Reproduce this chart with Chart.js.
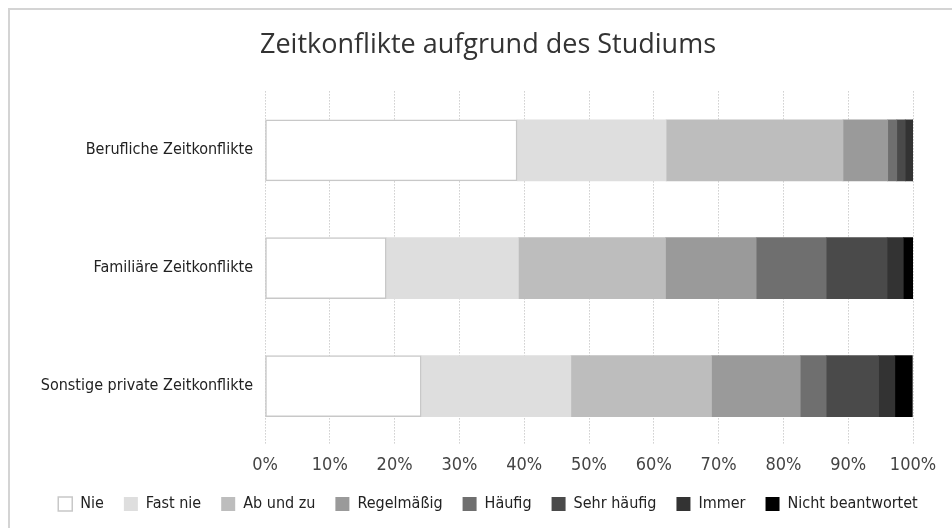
<!DOCTYPE html>
<html>
<head>
<meta charset="utf-8">
<script src="https://cdn.jsdelivr.net/npm/chart.js@4"></script>
<style>
  html, body { margin: 0; padding: 0; background: #fff; }
  #wrap { position: relative; width: 952px; height: 528px; overflow: hidden; }
  #frame { position: absolute; left: 8px; top: 8px; width: 980px; height: 560px;
           border-left: 2px solid #d4d4d4; border-top: 2px solid #d4d4d4; }
  canvas { position: absolute; left: 0; top: 0; }
</style>
</head>
<body>
<div id="wrap">
  <div id="frame"></div>
  <canvas id="chart" width="952" height="528"></canvas>
</div>
<script>
const categories = ["Berufliche Zeitkonflikte", "Familiäre Zeitkonflikte", "Sonstige private Zeitkonflikte"];
const seriesNames = ["Nie", "Fast nie", "Ab und zu", "Regelmäßig", "Häufig", "Sehr häufig", "Immer", "Nicht beantwortet"];
const nie = [38.9, 18.7, 24.1];
const fastNie = [23.0, 20.4, 23.1];
const abUndZu = [27.3, 22.7, 21.7];
const regelmaessig = [6.9, 14.0, 13.7];
const haeufig = [1.4, 10.8, 4.0];
const sehrHaeufig = [1.3, 9.4, 8.1];
const immer = [1.2, 2.5, 2.5];
const nichtBeantwortet = [0.0, 1.5, 2.7];
const xTicks = [0, 10, 20, 30, 40, 50, 60, 70, 80, 90, 100];

const seriesValues = [nie, fastNie, abUndZu, regelmaessig, haeufig, sehrHaeufig, immer, nichtBeantwortet];
const colors = ["#ffffff", "#dedede", "#bdbdbd", "#9a9a9a", "#6f6f6f", "#4a4a4a", "#333333", "#000000"];

const condensed = '"Liberation Sans Narrow", "DejaVu Sans Condensed", "Roboto", sans-serif';

const datasets = seriesNames.map((name, i) => ({
  label: name,
  data: seriesValues[i],
  backgroundColor: colors[i],
  borderColor: i === 0 ? "#c8c8c8" : colors[i],
  borderWidth: i === 0 ? 1.5 : 0,
  borderSkipped: false,
  barThickness: 61,
}));

const ctx = document.getElementById("chart").getContext("2d");

new Chart(ctx, {
  type: "bar",
  data: { labels: categories, datasets: datasets },
  options: {
    indexAxis: "y",
    responsive: false,
    animation: false,
    // left/right padding kept uneven so the title and legend sit a bit right of centre
    layout: { padding: { left: 30, right: 6, top: 12, bottom: 6 } },
    scales: {
      x: {
        stacked: true,
        min: 0,
        max: 100,
        afterBuildTicks: (axis) => { axis.ticks = xTicks.map((v) => ({ value: v })); },
        afterFit: (axis) => {
          axis.height = 31;
          axis.paddingRight = 39;
        },
        ticks: {
          callback: (v) => v + "%",
          color: "#444",
          font: { family: condensed, size: 18 },
          padding: 10,
          maxRotation: 0,
        },
        grid: { color: "#b5b5b5", lineWidth: 1, drawTicks: false },
        border: { display: false, dash: [1, 2] },
      },
      y: {
        stacked: true,
        afterFit: (axis) => { axis.width = 235; },
        ticks: {
          color: "#222",
          font: { family: condensed, size: 16 },
          padding: 12,
        },
        grid: { display: false, drawTicks: false },
        border: { display: false },
      },
    },
    plugins: {
      title: {
        display: true,
        text: "Zeitkonflikte aufgrund des Studiums",
        color: "#333",
        font: { family: '"Open Sans", "Noto Sans", sans-serif', size: 27, weight: "normal" },
        padding: { top: 17, bottom: 30 },
      },
      legend: {
        position: "bottom",
        labels: {
          color: "#222",
          font: { family: condensed, size: 16 },
          boxWidth: 14,
          boxHeight: 14,
          padding: 20,
        },
      },
      tooltip: { enabled: false },
    },
  },
});
</script>
</body>
</html>
